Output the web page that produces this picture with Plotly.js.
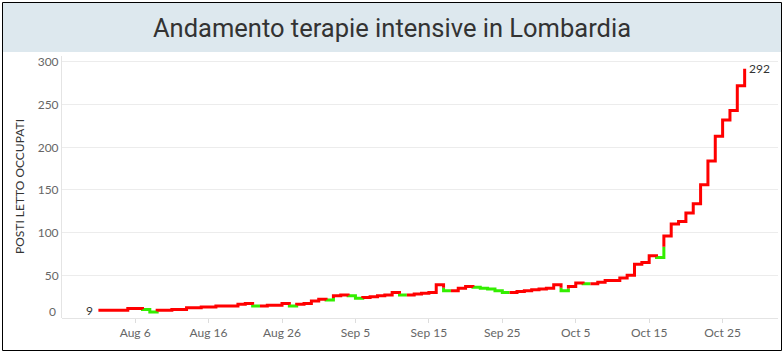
<!DOCTYPE html>
<html>
<head>
<meta charset="utf-8">
<script src="https://cdn.plot.ly/plotly-3.0.1.min.js"></script>
<style>
  html, body { margin: 0; padding: 0; background: #ffffff; }
  #chart { width: 784px; height: 354px; }
</style>
</head>
<body>
<div id="chart"></div>
<script>
// ---- Data ----
const augValues = [9,9,9,9,11,11,10,7,9,9,10,10,12,12,13,13,14,14,14,16,17,14,14,15,15,17,14,16,17,20,22];
const sepValues = [21,26,27,26,23,24,25,26,27,30,27,27,28,29,30,39,32,32,35,37,36,35,34,32,30,30,31,32,33,34];
const octValues = [35,39,32,37,41,40,40,42,44,44,47,50,63,65,73,71,96,110,113,123,134,156,184,213,232,243,272,292];
const monthKeys = ['2020-08', '2020-09', '2020-10'];

const tickDates = ['2020-08-06','2020-08-16','2020-08-26','2020-09-05','2020-09-15','2020-09-25','2020-10-05','2020-10-15','2020-10-25'];
const tickLabels = ['Aug 6','Aug 16','Aug 26','Sep 5','Sep 15','Sep 25','Oct 5','Oct 15','Oct 25'];
const yTicks = [0, 50, 100, 150, 200, 250, 300];
const yTickLabels = ['', '50', '100', '150', '200', '250', '300'];
const yZeroLabel = '0';

const titleText = 'Andamento terapie intensive in Lombardia';
const yTitleText = 'POSTI LETTO OCCUPATI';

// ---- Build date/value series ----
const dates = [], values = [];
[augValues, sepValues, octValues].forEach((arr, m) => {
  arr.forEach((v, i) => {
    dates.push(monthKeys[m] + '-' + String(i + 1).padStart(2, '0'));
    values.push(v);
  });
});

const RED = '#ff0000';
const GREEN = '#33ee00';
const colors = values.map((v, i) => (i > 0 && v < values[i - 1]) ? 'g' : 'r');

// Step path (horizontal then vertical), split by colour
const T = { r: { x: [], y: [] }, g: { x: [], y: [] } };
let cur = null;
function addSeg(c, x0, y0, x1, y1) {
  if (c !== cur) {
    if (cur) { T[cur].x.push(null); T[cur].y.push(null); }
    T[c].x.push(x0); T[c].y.push(y0);
    cur = c;
  }
  T[c].x.push(x1); T[c].y.push(y1);
}
for (let i = 1; i < values.length; i++) {
  const c0 = colors[i - 1], c1 = colors[i];
  addSeg(c0, dates[i - 1], values[i - 1], dates[i], values[i - 1]);
  if (values[i] !== values[i - 1]) {
    const mid = (values[i] + values[i - 1]) / 2;
    addSeg(c0, dates[i], values[i - 1], dates[i], mid);
    addSeg(c1, dates[i], mid, dates[i], values[i]);
  }
}

const traces = [
  { type: 'scatter', mode: 'lines', x: T.g.x, y: T.g.y, connectgaps: false,
    line: { color: GREEN, width: 3 }, hoverinfo: 'skip', showlegend: false },
  { type: 'scatter', mode: 'lines', x: T.r.x, y: T.r.y, connectgaps: false,
    line: { color: RED, width: 3 }, hoverinfo: 'skip', showlegend: false }
];

// ---- Layout geometry (pixels) ----
const W = 784, H = 354, L = 62, R = 6, TOP = 56, B = 36;
const pw = W - L - R, ph = H - TOP - B;
const px = v => (v - L) / pw;          // pixel x -> paper x
const py = v => (H - B - v) / ph;      // pixel y -> paper y

const layout = {
  width: W, height: H,
  margin: { l: L, r: R, t: TOP, b: B, pad: 0 },
  paper_bgcolor: '#ffffff', plot_bgcolor: '#ffffff',
  font: { family: 'Lato, "Open Sans", sans-serif', size: 12, color: '#666666' },
  title: {
    text: titleText,
    font: { family: 'Roboto, "Noto Sans", sans-serif', size: 25.5, color: '#333333' },
    x: 0.5, xanchor: 'center', xref: 'container',
    y: 1 - 28 / H, yanchor: 'middle', yref: 'container'
  },
  xaxis: {
    type: 'date',
    range: ['2020-07-27 01:00', '2020-11-01 13:00'],
    tickmode: 'array', tickvals: tickDates, ticktext: tickLabels,
    ticks: 'outside', ticklen: 4, tickcolor: '#dddddd',
    showgrid: false, zeroline: false, showline: false,
    tickfont: { size: 12, color: '#666666' }, fixedrange: true
  },
  yaxis: {
    range: [0, 307],
    tickmode: 'array', tickvals: yTicks, ticktext: yTickLabels,
    showgrid: true, gridcolor: '#ececec', gridwidth: 1,
    zeroline: true, zerolinecolor: '#e4e4e4', zerolinewidth: 1,
    showline: true, linecolor: '#e4e4e4', linewidth: 1,
    ticks: '', tickfont: { size: 12, color: '#666666' }, fixedrange: true
  },
  shapes: [
    // title band
    { type: 'rect', xref: 'paper', yref: 'paper', layer: 'below',
      x0: px(3), x1: px(781), y0: py(52), y1: py(3),
      fillcolor: '#dde8ee', line: { width: 0 } },
    // outer border
    { type: 'rect', xref: 'paper', yref: 'paper',
      x0: px(2.5), x1: px(781.5), y0: py(350.5), y1: py(2.5),
      fillcolor: 'rgba(0,0,0,0)', line: { color: '#000000', width: 1 } }
  ],
  annotations: [
    { xref: 'paper', yref: 'paper', x: px(19), y: 0.5, text: yTitleText,
      textangle: -90, showarrow: false, xanchor: 'center', yanchor: 'middle',
      font: { family: 'Lato, "Open Sans", sans-serif', size: 12, color: '#333333' } },
    // "0" tick label, nudged up inside the plot as in the reference
    { xref: 'paper', yref: 'paper', x: px(58), y: py(311), text: yZeroLabel,
      showarrow: false, xanchor: 'right', yanchor: 'middle',
      font: { size: 12, color: '#666666' } },
    { x: dates[0], y: values[0], text: String(values[0]), showarrow: false,
      xanchor: 'right', yanchor: 'middle', xshift: -3,
      font: { size: 12, color: '#333333' } },
    { x: dates[dates.length - 1], y: values[values.length - 1],
      text: String(values[values.length - 1]), showarrow: false,
      xanchor: 'left', yanchor: 'middle', xshift: 2,
      font: { size: 12, color: '#333333' } }
  ]
};

Plotly.newPlot('chart', traces, layout, { displayModeBar: false, staticPlot: true });
</script>
</body>
</html>
